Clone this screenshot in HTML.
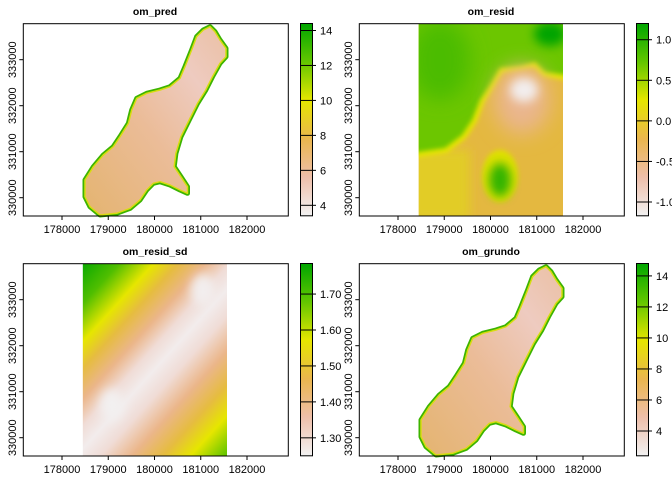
<!DOCTYPE html>
<html><head><meta charset="utf-8"><style>
body{margin:0;background:#fff}
svg{display:block;font-family:"Liberation Sans",sans-serif}
</style></head><body>
<svg id="c" width="672" height="480" xmlns="http://www.w3.org/2000/svg">
<defs>
<linearGradient id="cb" x1="0" y1="1" x2="0" y2="0">
<stop offset="0" stop-color="#F2F2F2"/><stop offset="0.2" stop-color="#EEBFAA"/><stop offset="0.4" stop-color="#EAB64E"/><stop offset="0.6" stop-color="#E6E600"/><stop offset="0.8" stop-color="#63C600"/><stop offset="1" stop-color="#00A600"/>
</linearGradient>
<linearGradient id="shp" x1="0" y1="1" x2="1" y2="0">
<stop offset="0" stop-color="#E4B470"/><stop offset="0.45" stop-color="#EBBC98"/><stop offset="0.75" stop-color="#EECBC0"/><stop offset="1" stop-color="#EBC0A4"/>
</linearGradient>
<linearGradient id="sd" gradientUnits="userSpaceOnUse" x1="60" y1="283" x2="250" y2="455">
<stop offset="0" stop-color="#00A600"/><stop offset="0.12" stop-color="#50BE00"/><stop offset="0.22" stop-color="#E6E600"/><stop offset="0.29" stop-color="#E6BC40"/><stop offset="0.37" stop-color="#EBB68A"/><stop offset="0.44" stop-color="#F0DCD6"/><stop offset="0.5" stop-color="#F2ECEC"/><stop offset="0.57" stop-color="#F0DCD6"/><stop offset="0.66" stop-color="#EBB68A"/><stop offset="0.75" stop-color="#E6BC40"/><stop offset="0.83" stop-color="#E6E600"/><stop offset="0.92" stop-color="#70C800"/><stop offset="1" stop-color="#10A800"/>
</linearGradient>
<filter id="bl" x="-50%" y="-50%" width="200%" height="200%"><feGaussianBlur stdDeviation="10"/></filter>
<filter id="bl2" x="-50%" y="-50%" width="200%" height="200%"><feGaussianBlur stdDeviation="5"/></filter>
<filter id="bl3" x="-50%" y="-50%" width="200%" height="200%"><feGaussianBlur stdDeviation="2.5"/></filter>
<clipPath id="clipR"><rect x="418.7" y="23.7" width="144.3" height="192.3"/></clipPath>
<clipPath id="clipS"><rect x="82.7" y="263.7" width="144.3" height="192.3"/></clipPath>
</defs>
<g id="panels"></g>
</svg>
<script>
const NS="http://www.w3.org/2000/svg";
const root=document.getElementById('panels');
const xTicks=[178000,179000,180000,181000,182000];
const yTicks=[330000,331000,332000,333000];
const titles=["om_pred","om_resid","om_resid_sd","om_grundo"];
const cbLabels=[["4","6","8","10","12","14"],["-1.0","-0.5","0.0","0.5","1.0"],["1.30","1.40","1.50","1.60","1.70"],["4","6","8","10","12","14"]];
const cbValues=[[4,6,8,10,12,14],[-1,-0.5,0,0.5,1],[1.3,1.4,1.5,1.6,1.7],[4,6,8,10,12,14]];
const cbRange=[[3.4,14.4],[-1.17,1.2],[1.25,1.785],[2.4,14.8]];
const outlineX=[181200,181308,181416,181546,181546,181416,181254,181110,180930,180750,180570,180462,180425,180570,180713,180713,180551,180335,180119,179975,179831,179687,179471,179183,178822,178606,178497,178497,178678,178894,179110,179254,179435,179507,179615,179831,180119,180335,180551,180659,180803,180911,181055];
const outlineY=[333718,333609,333428,333247,333066,332921,332631,332341,332051,331689,331327,330964,330674,330457,330240,330095,330167,330276,330348,330312,330167,329950,329768,329660,329624,329805,330022,330385,330674,330928,331109,331327,331617,331907,332160,332269,332341,332414,332595,332849,333211,333501,333646];
function xs(X,ox){return ox+62+(X-178000)*0.04625;}
function ys(Y,oy){return oy+59.7-(Y-333000)*0.046;}
function el(t,a,p){const e=document.createElementNS(NS,t);for(const k in a)e.setAttribute(k,a[k]);(p||root).appendChild(e);return e;}
function txt(s,a,p){const e=el('text',a,p);e.textContent=s;return e;}
const offs=[[0,0],[336,0],[0,240],[336,240]];
offs.forEach(([ox,oy],i)=>{
  const g=el('g',{});
  
  
  if(i===0||i===3){
    const pts=outlineX.map((X,k)=>xs(X,ox).toFixed(1)+','+ys(outlineY[k],oy).toFixed(1)).join(' ');
    el('polygon',{points:pts,fill:'#3CB400',stroke:'#3CB400','stroke-width':'5','stroke-linejoin':'round'},g);
    const p1=el('polygon',{points:pts,fill:'url(#shp)',stroke:'#D8DC10','stroke-width':'1.5','stroke-linejoin':'round'},g);
    
    
  } else if(i===1){
    const r=el('g',{'clip-path':'url(#clipR)'},g);
    const b=el('rect',{x:418.7,y:23.7,width:144.3,height:192.3,fill:'#E4B840'},r);
    
    
    el('rect',{x:410,y:150,width:60,height:70,fill:'#E2CC28',filter:'url(#bl2)'},r);
    const gp='M400,10 L580,10 L580,77 L545,72 L535,62 L520,66 L500,68 L490,85 L480,100 L472,120 L462,135 L445,148 L418,152 L400,152 Z';
    el('path',{d:gp,fill:'#E6E600',stroke:'#E6E600','stroke-width':'10',filter:'url(#bl3)'},r);
    el('path',{d:gp,fill:'#6CC600',filter:'url(#bl3)'},r);
    el('ellipse',{cx:440,cy:60,rx:30,ry:40,fill:'#4CBC00',filter:'url(#bl)'},r);
    el('ellipse',{cx:550,cy:34,rx:16,ry:12,fill:'#00A400',filter:'url(#bl2)'},r);
    el('ellipse',{cx:522,cy:100,rx:28,ry:34,fill:'#EAB68E',filter:'url(#bl)'},r);
    el('ellipse',{cx:524,cy:90,rx:14,ry:12,fill:'#F2EEEE',filter:'url(#bl2)'},r);
    el('ellipse',{cx:500,cy:176,rx:18,ry:26,fill:'#E0E000',filter:'url(#bl3)'},r);
    el('ellipse',{cx:500,cy:180,rx:11,ry:17,fill:'#30B400',filter:'url(#bl2)'},r);
  } else {
    const r=el('g',{'clip-path':'url(#clipS)'},g);
    const b=el('rect',{x:82.7,y:263.7,width:144.3,height:192.3,fill:'url(#sd)'},r);
    
    
    el('ellipse',{cx:112,cy:405,rx:12,ry:16,fill:'#F2F0F0',filter:'url(#bl2)'},r);
    el('ellipse',{cx:203,cy:290,rx:12,ry:16,fill:'#F2EEEE',filter:'url(#bl2)'},r);
  }
  el('rect',{x:ox+23.3,y:oy+23.7,width:265,height:192.3,fill:'none',stroke:'#000','stroke-width':'1'},g);
  const t=txt(titles[i],{x:ox+155,y:oy+15,'font-size':'10.5','font-weight':'bold','text-anchor':'middle'},g);
  
  
  xTicks.forEach(v=>{const x=xs(v,ox);el('line',{x1:x,x2:x,y1:oy+216,y2:oy+220,stroke:'#000'},g);
    const l=txt(String(v),{x:x,y:oy+233,'font-size':'11','text-anchor':'middle'},g);
    
    });
  yTicks.forEach(v=>{const y=ys(v,oy);el('line',{x1:ox+19.3,x2:ox+23.3,y1:y,y2:y,stroke:'#000'},g);
    const l=txt(String(v),{x:ox+16,y:y,'font-size':'11','text-anchor':'middle',transform:`rotate(-90 ${ox+16} ${y})`},g);
    
    });
  const cb=el('rect',{x:ox+300.5,y:oy+23.5,width:12,height:192.3,fill:'url(#cb)',stroke:'#000','stroke-width':'1'},g);
  
  
  const [lo,hi]=cbRange[i];
  cbValues[i].forEach((v,k)=>{const y=oy+215.8-(v-lo)/(hi-lo)*192.3;
    el('line',{x1:ox+300.5,x2:ox+316,y1:y,y2:y,stroke:'#000'},g);
    const l=txt(cbLabels[i][k],{x:ox+320,y:y+4,'font-size':'11'},g);
    
    });
});
</script>
</body></html>
